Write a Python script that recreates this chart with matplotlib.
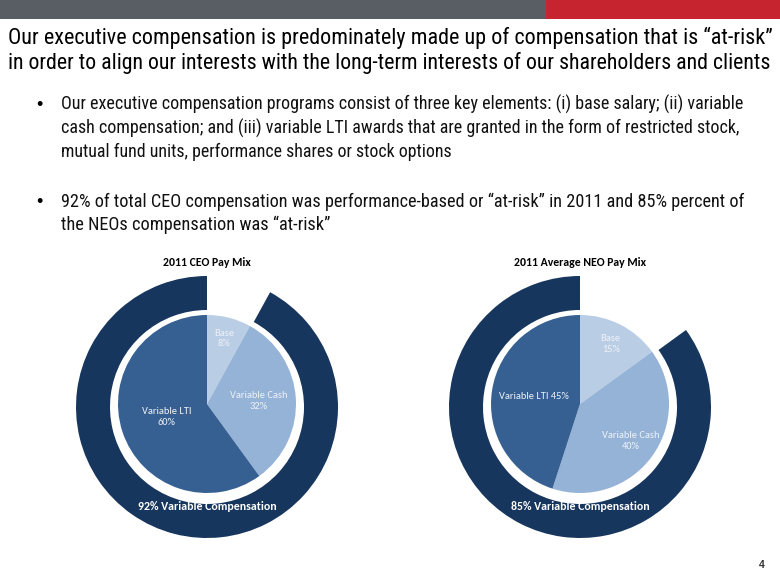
import matplotlib
matplotlib.use("Agg")
import matplotlib.pyplot as plt
from matplotlib import font_manager
from matplotlib.patches import Rectangle, Wedge
import numpy as np

# ---- data ----
slices = ["Base", "Variable Cash", "Variable LTI"]
ceo_mix = [8, 32, 60]
neo_mix = [15, 40, 45]
ceo_variable = 92
neo_variable = 85

title_lines = [
    "Our executive compensation is predominately made up of compensation that is \u201cat-risk\u201d",
    "in order to align our interests with the long-term interests of our shareholders and clients",
]
bullet1 = [
    "Our executive compensation programs consist of three key elements: (i) base salary; (ii) variable",
    "cash compensation; and (iii) variable LTI awards that are granted in the form of restricted stock,",
    "mutual fund units, performance shares or stock options",
]
bullet2 = [
    "92% of total CEO compensation was performance-based or \u201cat-risk\u201d in 2011 and 85% percent of",
    "the NEOs compensation was \u201cat-risk\u201d",
]

RING = "#17365D"
SLICE_COLORS = ["#B9CDE5", "#95B3D7", "#376092"]

names = {f.name for f in font_manager.fontManager.ttflist}
NARROW = "Roboto Condensed" if "Roboto Condensed" in names else "Liberation Sans"
CHART_FONT = "Carlito" if "Carlito" in names else "Lato"

W, H = 780, 585
fig = plt.figure(figsize=(W / 100, H / 100), dpi=100)
bg = fig.add_axes([0, 0, 1, 1])
bg.set_xlim(0, W)
bg.set_ylim(H, 0)
bg.axis("off")
renderer = fig.canvas.get_renderer()


def fit(t, target_w):
    # scale the font so the text spans the width measured on the slide
    w = t.get_window_extent(renderer).width
    t.set_fontsize(t.get_fontsize() * target_w / w)
    return t.get_fontsize()


# header bar
bg.add_patch(Rectangle((0, 0), 546, 19, color="#585E63", lw=0))
bg.add_patch(Rectangle((546, 0), W - 546, 19, color="#C6252F", lw=0))

for k, line in enumerate(title_lines):
    t = bg.text(8, 44 + k * 25.5, line, fontsize=15, family=NARROW, va="baseline",
                color="black")
    fit(t, 764)

b1_w = [681, 681, 391]
for k, line in enumerate(bullet1):
    t = bg.text(61, 110 + k * 23.5, line, fontsize=13.6, family=NARROW,
                va="baseline", color="#111111")
    fit(t, b1_w[k])
b2_w = [686, 269]
for k, line in enumerate(bullet2):
    t = bg.text(61, 207 + k * 23.5, line, fontsize=13.6, family=NARROW,
                va="baseline", color="#111111")
    fit(t, b2_w[k])
for y in (110, 207):
    bg.text(36, y, "\u2022", fontsize=13, family="Liberation Sans", va="baseline")

bg.text(762, 568, "4", fontsize=7.5, family="Liberation Sans", weight="bold",
        color="#333333", ha="center", va="baseline")

# size of the in-pie labels, from the width of "Variable Cash" on the slide
probe = bg.text(0, 0, "Variable Cash", fontsize=8, family=CHART_FONT)
LABEL_SIZE = fit(probe, 57)
probe.remove()
probe = bg.text(0, 0, "92% Variable Compensation", fontsize=8, family=CHART_FONT,
                weight="bold")
RING_SIZE = fit(probe, 139)
probe.remove()


def draw_mix(cx, cy, title, title_w, mix, variable, label_dist, label_fmt):
    ax = fig.add_axes([(cx - 150) / W, 1 - (cy + 150) / H, 300 / W, 300 / H])
    # outer ring: variable share, from 12 o'clock the long way round
    ax.add_patch(Wedge((0, -3), 131, 90, 90 + 360 * variable / 100, width=34,
                       facecolor=RING, edgecolor="none"))
    wedges, _ = ax.pie(mix, colors=SLICE_COLORS, startangle=90, counterclock=False,
                       radius=89, wedgeprops=dict(linewidth=0))
    ax.set_xlim(-150, 150)
    ax.set_ylim(-150, 150)
    ax.axis("off")
    for w, name, val, d, fmt in zip(wedges, slices, mix, label_dist, label_fmt):
        ang = np.deg2rad((w.theta1 + w.theta2) / 2)
        ax.text(d * 89 * np.cos(ang), d * 89 * np.sin(ang), fmt.format(name, val),
                ha="center", va="center", fontsize=LABEL_SIZE, family=CHART_FONT,
                color="#EEF2F8", linespacing=1.25)
    ax.text(0, -103, f"{variable}% Variable Compensation", ha="center", va="center",
            fontsize=RING_SIZE, family=CHART_FONT, weight="bold", color="white")
    t = bg.text(cx, 262, title, ha="center", va="center", fontsize=8,
                family=CHART_FONT, weight="bold", color="black")
    fit(t, title_w)


draw_mix(207, 404, "2011 CEO Pay Mix", 88, ceo_mix, ceo_variable,
         [0.76, 0.58, 0.48], ["{}\n{}%", "{}\n{}%", "{}\n{}%"])
draw_mix(580, 404, "2011 Average NEO Pay Mix", 132, neo_mix, neo_variable,
         [0.76, 0.71, 0.52], ["{}\n{}%", "{}\n{}%", "{} {}%"])

fig.savefig("out.png", dpi=100)
